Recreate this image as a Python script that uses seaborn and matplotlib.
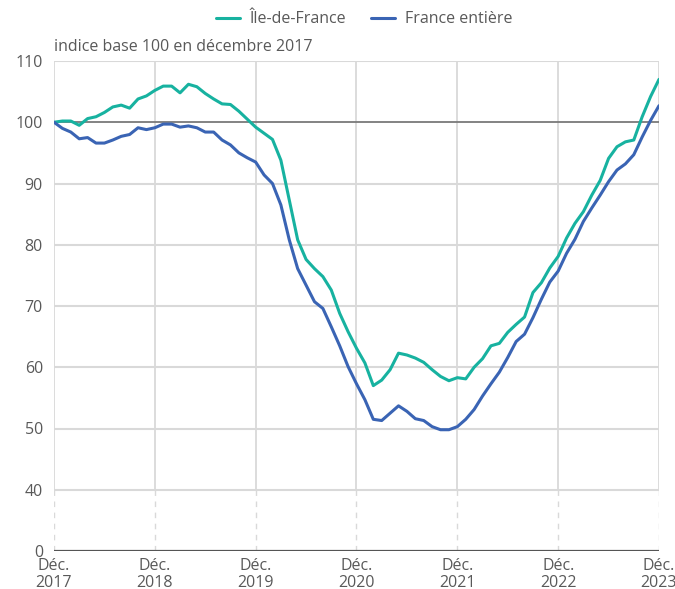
import pandas as pd
import seaborn as sns
import matplotlib.pyplot as plt

# Indice base 100 en décembre 2017, mensuel de déc. 2017 à déc. 2023
months = list(range(73))
idf = [
    100.0, 100.2, 100.2, 99.5, 100.6, 100.9, 101.6, 102.5, 102.8, 102.3,
    103.8, 104.3, 105.2, 105.9, 105.9, 104.8, 106.2, 105.8, 104.7, 103.8,
    103.0, 102.9, 101.8, 100.5, 99.2, 98.2, 97.2, 93.8, 87.3, 80.8,
    77.6, 76.1, 74.8, 72.6, 68.8, 65.8, 63.1, 60.7, 57.0, 57.9,
    59.6, 62.3, 62.0, 61.5, 60.8, 59.6, 58.5, 57.8, 58.3, 58.1,
    60.0, 61.4, 63.5, 63.9, 65.7, 67.0, 68.2, 72.2, 73.8, 76.2,
    78.1, 81.1, 83.5, 85.4, 88.1, 90.5, 94.1, 96.0, 96.8, 97.1,
    100.9, 104.2, 107.0,
]
france = [
    100.0, 99.0, 98.4, 97.3, 97.5, 96.6, 96.6, 97.1, 97.7, 98.0,
    99.1, 98.8, 99.1, 99.7, 99.7, 99.2, 99.4, 99.1, 98.4, 98.4,
    97.1, 96.3, 95.0, 94.2, 93.5, 91.4, 90.0, 86.5, 80.8, 76.1,
    73.4, 70.7, 69.6, 66.6, 63.5, 60.1, 57.3, 54.7, 51.5, 51.3,
    52.5, 53.7, 52.8, 51.6, 51.3, 50.3, 49.8, 49.8, 50.3, 51.5,
    53.1, 55.3, 57.3, 59.2, 61.6, 64.2, 65.4, 68.1, 71.1, 73.9,
    75.7, 78.6, 80.9, 83.8, 86.0, 88.1, 90.3, 92.2, 93.2, 94.7,
    97.6, 100.3, 102.7,
]
series_names = ["Île-de-France", "France entière"]
x_ticks = [0, 12, 24, 36, 48, 60, 72]
x_labels = ["Déc.\n2017", "Déc.\n2018", "Déc.\n2019", "Déc.\n2020",
            "Déc.\n2021", "Déc.\n2022", "Déc.\n2023"]
# axe brisé : 0 est placé à la position 30
y_ticks = [30, 40, 50, 60, 70, 80, 90, 100, 110]
y_labels = ["0", "40", "50", "60", "70", "80", "90", "100", "110"]

df = pd.DataFrame({
    "mois": months * 2,
    "indice": idf + france,
    "zone": [series_names[0]] * len(idf) + [series_names[1]] * len(france),
})

sns.set_theme(style="white")
plt.rcParams["font.family"] = ["Open Sans", "DejaVu Sans"]

text_col = "#595959"
grid_col = "#d9d9d9"
palette = {series_names[0]: "#17b2a0", series_names[1]: "#3a64b4"}

fig = plt.figure(figsize=(6.75, 5.89), dpi=100)
ax = fig.add_axes([54 / 675, 38 / 589, 605 / 675, 490 / 589])

# grille
for v in y_ticks[1:]:
    if v == 100:
        continue
    ax.axhline(v, color=grid_col, lw=1.5, zorder=0)
ax.vlines(x_ticks, 40, 110, color=grid_col, lw=1.3, zorder=0)
ax.vlines(x_ticks, 30, 40, color=grid_col, lw=1.0, linestyles=(0, (4, 4)), zorder=0)
ax.axhline(100, color="#7a7a7a", lw=1.3, zorder=1)
ax.axhline(30, color="#555555", lw=1.6, zorder=1)

sns.lineplot(data=df, x="mois", y="indice", hue="zone", palette=palette,
             lw=2.2, ax=ax, legend=False, zorder=3)

ax.set_xlim(0, 72)
ax.set_ylim(30, 110)
ax.set_xticks(x_ticks)
ax.set_xticklabels(x_labels, fontsize=11.5, color=text_col, linespacing=1.05)
ax.set_yticks(y_ticks)
ax.set_yticklabels(y_labels, fontsize=11.5, color=text_col)
ax.tick_params(axis="both", length=0)
ax.tick_params(axis="y", pad=8)
ax.tick_params(axis="x", pad=5)
ax.set_xlabel("")
ax.set_ylabel("")
for s in ax.spines.values():
    s.set_visible(False)

ax.text(0, 110.9, "indice base 100 en décembre 2017", fontsize=11.5,
        color=text_col, ha="left", va="bottom")

handles = [plt.Line2D([], [], color=palette[n], lw=2.2) for n in series_names]
fig.legend(handles, series_names, loc="upper center",
           bbox_to_anchor=(364 / 675, 1.005), ncol=2, frameon=False,
           fontsize=11.5, labelcolor=text_col, handlelength=1.5,
           handletextpad=0.6, columnspacing=1.6)

fig.savefig("out.png", dpi=100)
